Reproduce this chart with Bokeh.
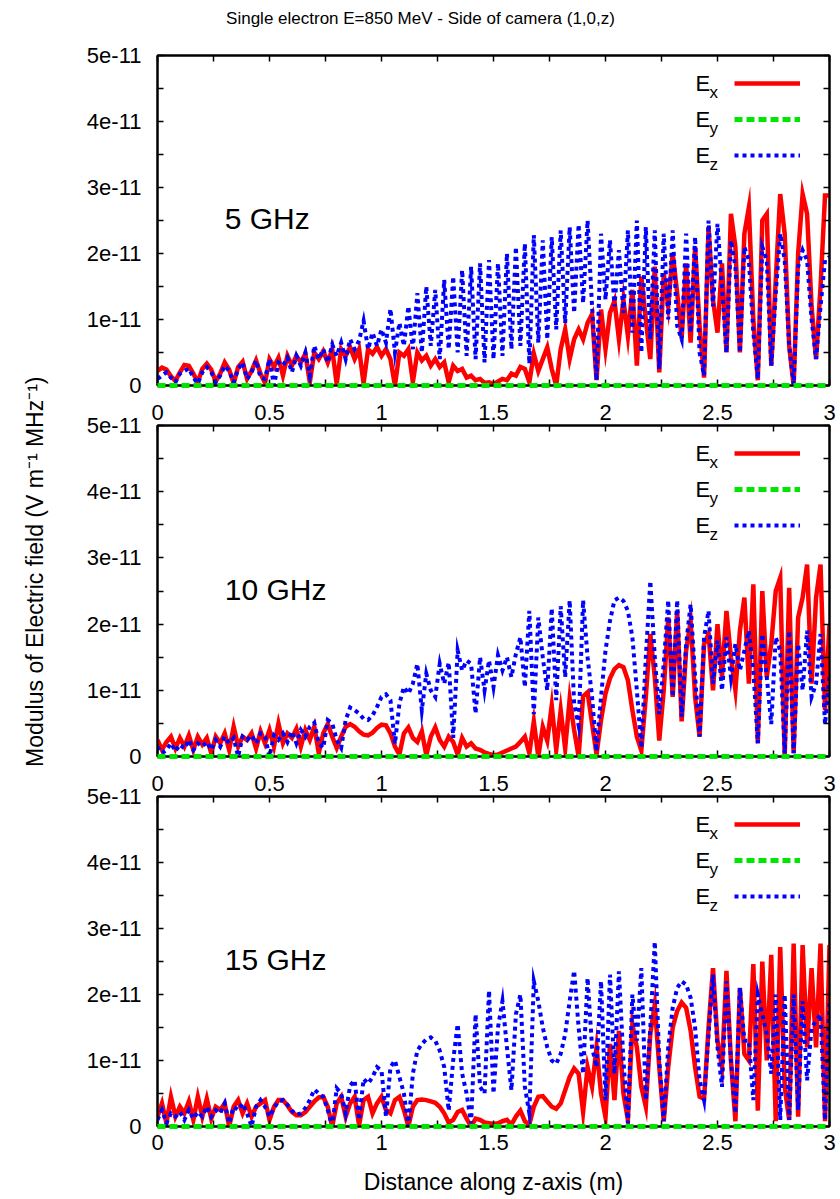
import numpy as np
from bokeh.plotting import figure
from bokeh.layouts import row, column
from bokeh.models import (FixedTicker, CustomJSTickFormatter, LinearAxis, Label,
                          Legend, LegendItem, Range1d, CustomLabelingPolicy)
from bokeh.embed import file_html
from bokeh.resources import INLINE
from bokeh.core.properties import value

FONT = "Liberation Sans"
TITLE = "Single electron E=850 MeV - Side of camera (1,0,z)"
Y_LABEL = "Modulus of Electric field  (V m\u207b\u00b9 MHz\u207b\u00b9)"
X_LABEL = "Distance along z-axis (m)"
FREQS = ["5 GHz", "10 GHz", "15 GHz"]
LEG_MAIN = ["E", "E", "E"]
LEG_SUB = ["x", "y", "z"]

# distance along z (m), sampling grid
Z = [round(0.02 * i, 2) for i in range(151)]
UNIT = 1e-11  # values below are in units of 1e-11 V m^-1 MHz^-1

EX_5 = [0.22, 0.27, 0.24, 0.14, 0.07, 0.20, 0.31, 0.30, 0.18, 0.05,
        0.25, 0.33, 0.24, 0.06, 0.18, 0.35, 0.24, 0.03, 0.28, 0.36,
        0.10, 0.22, 0.38, 0.18, 0.04, 0.40, 0.28, 0.42, 0.15, 0.45,
        0.30, 0.45, 0.35, 0.48, 0.05, 0.50, 0.40, 0.52, 0.35, 0.55,
        0.02, 0.55, 0.45, 0.58, 0.40, 0.55, 0.03, 0.55, 0.48, 0.58,
        0.45, 0.55, 0.40, 0.00, 0.50, 0.45, 0.55, 0.05, 0.50, 0.38,
        0.45, 0.30, 0.40, 0.28, 0.35, 0.05, 0.30, 0.22, 0.25, 0.12,
        0.15, 0.08, 0.10, 0.04, 0.05, 0.02, 0.06, 0.10, 0.08, 0.18,
        0.15, 0.28, 0.25, 0.05, 0.48, 0.22, 0.40, 0.58, 0.25, 0.00,
        0.55, 0.85, 0.40, 0.70, 0.85, 0.70, 0.95, 1.08, 0.08, 1.15,
        0.55, 1.10, 1.28, 0.70, 1.30, 0.75, 1.45, 0.30, 1.65, 1.00,
        0.40, 1.80, 0.20, 1.70, 1.20, 2.00, 1.40, 0.72, 1.85, 0.65,
        2.10, 0.90, 0.12, 2.40, 1.30, 0.80, 1.85, 0.50, 2.60, 2.10,
        0.50, 2.30, 2.70, 1.00, 0.08, 2.50, 2.60, 0.30, 1.60, 2.90,
        2.30, 0.60, 0.00, 2.00, 2.90, 2.60, 1.20, 0.40, 1.50, 2.88, 2.88]

EZ_5 = [0.10, 0.15, 0.20, 0.12, 0.05, 0.18, 0.22, 0.26, 0.12, 0.03,
        0.20, 0.28, 0.20, 0.05, 0.15, 0.30, 0.22, 0.05, 0.25, 0.35,
        0.10, 0.20, 0.38, 0.12, 0.10, 0.40, 0.00, 0.35, 0.30, 0.42,
        0.20, 0.45, 0.30, 0.50, 0.15, 0.60, 0.40, 0.55, 0.35, 0.62,
        0.45, 0.65, 0.40, 0.70, 0.55, 0.68, 0.98, 0.55, 0.80, 0.60,
        0.85, 0.65, 1.16, 0.50, 0.95, 0.60, 1.20, 0.55, 1.40, 0.50,
        1.50, 0.60, 1.45, 0.40, 1.60, 0.55, 1.65, 0.50, 1.75, 0.45,
        1.80, 0.40, 1.85, 0.35, 1.90, 0.40, 1.85, 0.45, 2.00, 0.55,
        2.10, 0.60, 2.15, 0.33, 2.28, 0.65, 2.20, 0.70, 2.25, 0.85,
        2.35, 0.95, 2.40, 1.10, 2.44, 1.25, 2.50, 1.20, 0.08, 2.30,
        1.30, 2.20, 1.20, 2.05, 1.10, 2.35, 0.80, 2.50, 0.50, 2.40,
        0.70, 2.35, 0.25, 2.30, 1.00, 2.35, 0.90, 0.70, 2.30, 0.80,
        2.25, 0.50, 0.15, 2.50, 1.20, 2.45, 1.50, 0.50, 2.20, 1.80,
        0.50, 2.10, 1.90, 0.80, 0.10, 2.10, 1.90, 0.30, 1.40, 2.30,
        1.90, 0.60, 0.02, 1.80, 2.05, 1.90, 1.00, 0.40, 1.20, 1.90, 1.95]

EX_10 = [0.25, 0.10, 0.22, 0.30, 0.12, 0.28, 0.15, 0.32, 0.10, 0.30,
         0.18, 0.28, 0.05, 0.30, 0.20, 0.35, 0.10, 0.45, 0.15, 0.30,
         0.25, 0.35, 0.12, 0.38, 0.20, 0.40, 0.15, 0.50, 0.20, 0.35,
         0.28, 0.42, 0.15, 0.40, 0.25, 0.45, 0.05, 0.35, 0.49, 0.30,
         0.13, 0.30, 0.45, 0.49, 0.45, 0.38, 0.33, 0.32, 0.36, 0.43,
         0.48, 0.47, 0.35, 0.15, 0.03, 0.35, 0.44, 0.28, 0.22, 0.38,
         0.02, 0.30, 0.44, 0.25, 0.15, 0.30, 0.22, 0.03, 0.28, 0.15,
         0.20, 0.12, 0.10, 0.06, 0.04, 0.02, 0.03, 0.06, 0.09, 0.12,
         0.15, 0.22, 0.30, 0.05, 0.53, 0.00, 0.45, 0.24, 0.77, 0.10,
         0.70, 0.12, 0.87, 0.40, 0.00, 0.91, 0.97, 0.50, 0.03, 0.55,
         0.95, 1.18, 1.32, 1.38, 1.35, 1.15, 0.70, 0.30, 0.09, 0.90,
         1.85, 1.20, 0.24, 1.00, 2.10, 0.90, 2.20, 0.53, 1.60, 2.05,
         0.90, 0.30, 1.70, 1.85, 1.00, 2.00, 1.20, 2.20, 1.50, 1.00,
         1.90, 2.40, 1.10, 2.60, 0.20, 2.50, 1.20, 1.70, 2.50, 2.70,
         0.00, 2.55, 0.05, 2.10, 2.40, 2.90, 1.10, 2.40, 2.90, 0.70, 2.00]

EZ_10 = [0.15, 0.05, 0.10, 0.20, 0.08, 0.18, 0.12, 0.25, 0.10, 0.20,
         0.15, 0.22, 0.10, 0.25, 0.15, 0.30, 0.20, 0.28, 0.00, 0.30,
         0.25, 0.32, 0.20, 0.35, 0.30, 0.00, 0.32, 0.25, 0.35, 0.22,
         0.38, 0.20, 0.40, 0.30, 0.45, 0.51, 0.20, 0.13, 0.55, 0.50,
         0.25, 0.13, 0.55, 0.74, 0.70, 0.65, 0.57, 0.55, 0.62, 0.75,
         0.90, 0.94, 0.85, 0.19, 0.80, 1.05, 0.95, 1.10, 1.40, 0.70,
         1.25, 1.00, 0.90, 1.40, 1.10, 1.42, 0.28, 1.60, 1.30, 1.45,
         1.40, 0.65, 1.50, 1.00, 1.45, 1.05, 1.53, 1.30, 1.50, 1.20,
         1.55, 1.80, 1.05, 2.20, 0.64, 2.10, 1.50, 1.00, 2.24, 0.85,
         2.27, 1.20, 2.36, 0.80, 0.47, 2.36, 1.50, 0.90, 0.08, 0.90,
         1.60, 2.05, 2.36, 2.40, 2.35, 2.20, 1.80, 1.00, 0.13, 1.50,
         2.65, 1.50, 0.64, 1.40, 2.36, 0.90, 2.36, 0.60, 1.70, 2.30,
         1.20, 0.30, 1.80, 2.20, 1.10, 1.75, 1.00, 1.80, 1.20, 1.70,
         1.30, 1.60, 1.90, 1.30, 0.20, 1.85, 1.20, 0.49, 1.80, 1.60,
         0.05, 1.90, 0.05, 1.70, 1.00, 1.90, 0.90, 1.10, 1.85, 0.49, 1.20]

EX_15 = [0.15, 0.35, 0.05, 0.45, 0.15, 0.30, 0.20, 0.38, 0.10, 0.45,
         0.15, 0.42, 0.12, 0.30, 0.25, 0.35, 0.00, 0.30, 0.40, 0.20,
         0.35, 0.15, 0.30, 0.35, 0.40, 0.10, 0.30, 0.40, 0.40, 0.32,
         0.22, 0.17, 0.17, 0.22, 0.30, 0.38, 0.44, 0.45, 0.30, 0.00,
         0.35, 0.45, 0.15, 0.35, 0.45, 0.02, 0.40, 0.45, 0.20, 0.35,
         0.45, 0.25, 0.20, 0.40, 0.45, 0.25, 0.00, 0.30, 0.40, 0.41,
         0.40, 0.38, 0.36, 0.30, 0.20, 0.06, 0.10, 0.22, 0.25, 0.12,
         0.00, 0.12, 0.10, 0.06, 0.05, 0.04, 0.05, 0.08, 0.10, 0.03,
         0.15, 0.24, 0.08, 0.03, 0.30, 0.45, 0.46, 0.38, 0.30, 0.27,
         0.35, 0.55, 0.75, 0.88, 0.80, 0.22, 0.90, 0.60, 1.20, 0.50,
         0.14, 1.25, 0.40, 1.45, 0.50, 0.10, 1.55, 1.20, 0.60, 0.30,
         1.40, 1.85, 0.90, 0.08, 0.90, 1.50, 1.75, 1.88, 1.80, 1.45,
         0.90, 0.45, 0.42, 1.50, 2.40, 1.30, 0.90, 2.36, 1.00, 0.08,
         2.10, 1.10, 1.00, 2.46, 0.24, 2.50, 1.00, 2.60, 0.08, 2.72,
         0.60, 0.10, 2.77, 0.15, 2.75, 1.20, 2.40, 1.20, 2.77, 0.08, 2.75]

EZ_15 = [0.10, 0.25, 0.05, 0.20, 0.15, 0.22, 0.10, 0.25, 0.12, 0.22,
         0.15, 0.30, 0.15, 0.25, 0.20, 0.35, 0.05, 0.30, 0.25, 0.35,
         0.20, 0.00, 0.30, 0.40, 0.30, 0.15, 0.28, 0.38, 0.40, 0.33,
         0.24, 0.18, 0.20, 0.28, 0.40, 0.56, 0.50, 0.45, 0.25, 0.00,
         0.58, 0.50, 0.20, 0.62, 0.70, 0.10, 0.72, 0.65, 0.75, 0.90,
         0.85, 0.15, 0.90, 1.00, 0.75, 0.50, 0.00, 0.80, 1.15, 1.25,
         1.32, 1.35, 1.30, 1.15, 0.90, 0.24, 1.00, 1.55, 0.80, 0.50,
         0.05, 1.70, 0.60, 0.50, 2.06, 0.50, 1.50, 1.90, 1.20, 0.55,
         1.70, 2.00, 0.60, 0.20, 2.20, 1.90, 1.50, 1.20, 1.00, 0.95,
         1.10, 1.40, 1.90, 2.36, 1.50, 0.80, 2.25, 1.20, 0.90, 2.20,
         0.40, 2.30, 0.80, 2.35, 1.00, 0.05, 2.00, 1.30, 2.40, 0.40,
         1.50, 2.80, 1.00, 0.08, 1.20, 1.80, 2.10, 2.20, 2.15, 1.95,
         1.50, 0.70, 0.40, 1.40, 2.30, 1.20, 0.60, 2.20, 1.00, 0.20,
         2.10, 1.30, 1.30, 0.40, 2.00, 1.70, 1.40, 0.80, 2.00, 0.10,
         2.00, 0.10, 2.00, 0.25, 1.90, 0.70, 1.50, 1.60, 1.70, 0.10, 1.90]

EY_Z = [0.0, 3.0]
EY_ALL = [0.0, 0.0]

X_TICKS = [0, 0.5, 1, 1.5, 2, 2.5, 3]
X_MINOR = [0.25, 0.75, 1.25, 1.75, 2.25, 2.75]
Y_TICKS = [0, 1e-11, 2e-11, 3e-11, 4e-11, 5e-11]
Y_MINOR = [0.5e-11, 1.5e-11, 2.5e-11, 3.5e-11, 4.5e-11]

RED = "#ff0000"
GREEN = "#00e600"
BLUE = "#0000ff"

PAGE_W = 840
TITLE_H = 34
YL_W = 68
FIG_W = PAGE_W - YL_W
B_LEFT = 89
B_RIGHT = 11
FRAME_H = [330, 331, 330]
B_TOP = [55 - TITLE_H, 27, 27]
B_BOT = [13, 13, 73]
LEG_ROWS = [28, 64, 100]

NO_LABELS = "const all = Array.from(indices); for (const i of all) { indices.unset(i); } return indices;"


def xfmt():
    return CustomJSTickFormatter(code="return String(Math.round(tick*100)/100);")


def yfmt():
    return CustomJSTickFormatter(
        code="const k = Math.round(tick*1e11); return k === 0 ? '0' : k + 'e-11';")


def style_axis(ax, dim, show_labels, standoff):
    if dim == "x":
        ax.ticker = FixedTicker(ticks=X_TICKS, minor_ticks=X_MINOR)
        ax.formatter = xfmt()
    else:
        ax.ticker = FixedTicker(ticks=Y_TICKS, minor_ticks=Y_MINOR)
        ax.formatter = yfmt()
    ax.major_tick_in = 6
    ax.major_tick_out = 0
    ax.minor_tick_in = 6
    ax.minor_tick_out = 0
    ax.major_tick_line_width = 1.5
    ax.minor_tick_line_width = 1.5
    ax.axis_line_width = 2
    ax.axis_line_color = "black"
    ax.major_label_text_font = FONT
    ax.major_label_text_color = "black"
    ax.major_label_standoff = standoff
    if show_labels:
        ax.major_label_text_font_size = "22px"
    else:
        ax.major_label_text_font_size = "0px"
        ax.major_label_policy = CustomLabelingPolicy(code=NO_LABELS)
    return ax


def make_panel(k, ex, ez, top_labels, bottom_labels, xlabel=None):
    h = B_TOP[k] + FRAME_H[k] + B_BOT[k]
    p = figure(width=FIG_W, height=h, x_range=Range1d(0, 3), y_range=Range1d(0, 5e-11),
               output_backend="svg", toolbar_location=None,
               x_axis_location=None, y_axis_location=None,
               min_border_left=B_LEFT, min_border_right=B_RIGHT,
               min_border_top=B_TOP[k], min_border_bottom=B_BOT[k],
               outline_line_color="black", outline_line_width=2)
    p.grid.visible = False

    p.add_layout(style_axis(LinearAxis(), "y", True, 16), "left")
    p.add_layout(style_axis(LinearAxis(), "y", False, 0), "right")
    p.add_layout(style_axis(LinearAxis(), "x", top_labels, 6 if top_labels else 0), "above")
    bax = style_axis(LinearAxis(), "x", bottom_labels, 8 if bottom_labels else 0)
    if xlabel:
        bax.axis_label = xlabel
        bax.axis_label_text_font = FONT
        bax.axis_label_text_font_size = "23px"
        bax.axis_label_text_font_style = "normal"
        bax.axis_label_text_color = "black"
        bax.axis_label_standoff = 16
    p.add_layout(bax, "below")

    n1 = min(len(Z), len(ex))
    n3 = min(len(Z), len(ez))
    r1 = p.line(Z[:n1], [v * UNIT for v in ex[:n1]], line_color=RED, line_width=4.5,
                line_join="miter")
    r2 = p.line(EY_Z, EY_ALL, line_color=GREEN, line_width=5, line_dash="8 4",
                level="overlay")
    r3 = p.line(Z[:n3], [v * UNIT for v in ez[:n3]], line_color=BLUE, line_width=4,
                line_dash="4 4", line_join="miter")

    legend = Legend(items=[LegendItem(label=value(" "), renderers=[r]) for r in (r1, r2, r3)],
                    location="top_right", margin=10, padding=8, spacing=16,
                    glyph_width=66, glyph_height=20, label_height=20, label_width=6,
                    label_standoff=5, label_text_font_size="1px",
                    background_fill_alpha=0, border_line_alpha=0)
    p.add_layout(legend)

    for i in range(3):
        p.add_layout(Label(x=3, y=5e-11, x_offset=-134, y_offset=-LEG_ROWS[i],
                           text=LEG_MAIN[i], text_font=FONT, text_font_size="22px",
                           text_baseline="middle", text_align="left", text_color="black"))
        p.add_layout(Label(x=3, y=5e-11, x_offset=-120, y_offset=-(LEG_ROWS[i] + 9),
                           text=LEG_SUB[i], text_font=FONT, text_font_size="17px",
                           text_baseline="middle", text_align="left", text_color="black"))

    p.add_layout(Label(x=0.3, y=2.53e-11, text=FREQS[k], text_font=FONT,
                       text_font_size="30px", text_baseline="middle", text_align="left",
                       text_color="black"))
    return p


# title strip across the top of the page (pixel-like ranges)
tf = figure(width=PAGE_W, height=TITLE_H, x_range=Range1d(0, PAGE_W), y_range=Range1d(0, TITLE_H),
            output_backend="svg", toolbar_location=None, min_border=0,
            x_axis_location=None, y_axis_location=None, outline_line_color=None)
tf.grid.visible = False
tf.add_layout(Label(x=PAGE_W / 2, y=TITLE_H - 18, text=TITLE, text_font=FONT,
                    text_font_size="17px", text_align="center", text_baseline="middle",
                    text_color="black"))

f1 = make_panel(0, EX_5, EZ_5, False, False)
f2 = make_panel(1, EX_10, EZ_10, True, False)
f3 = make_panel(2, EX_15, EZ_15, True, True, xlabel=X_LABEL)

panels_h = sum(B_TOP) + sum(FRAME_H) + sum(B_BOT)
yl = figure(width=YL_W, height=panels_h, x_range=Range1d(0, 1), y_range=Range1d(0, 1),
            output_backend="svg", toolbar_location=None, min_border=0,
            x_axis_location=None, y_axis_location=None, outline_line_color=None)
yl.grid.visible = False
yl.add_layout(Label(x=0.5, y=1 - (568 - TITLE_H) / panels_h, angle=np.pi / 2, text=Y_LABEL,
                    text_font=FONT, text_font_size="23px", text_align="center",
                    text_baseline="middle", text_color="black"))

layout = column(tf, row(yl, column(f1, f2, f3)))
open("out.html", "w").write(file_html(layout, INLINE))
